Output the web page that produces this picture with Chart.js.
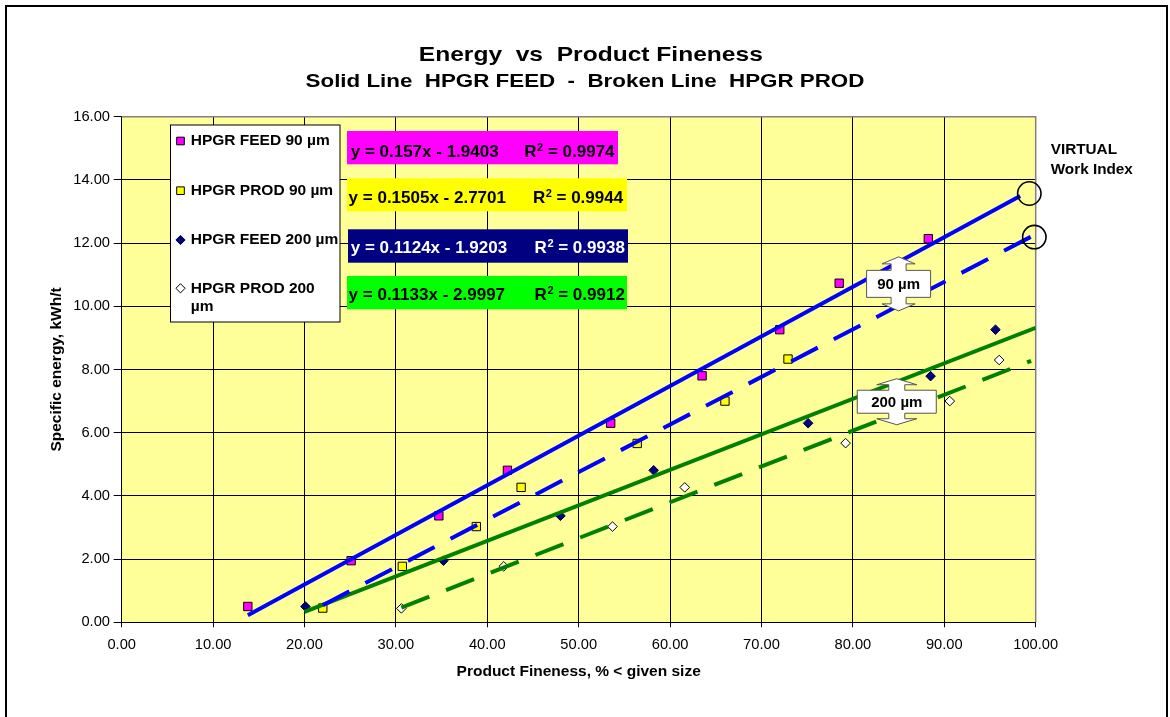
<!DOCTYPE html>
<html>
<head>
<meta charset="utf-8">
<script src="https://cdn.jsdelivr.net/npm/chart.js@4.4.0/dist/chart.umd.min.js"></script>
<style>
  html, body { margin: 0; padding: 0; background: #fff; }
  #wrap { width: 1170px; height: 717px; }
</style>
</head>
<body>
<div id="wrap"><canvas id="chart" width="1170" height="717"></canvas></div>
<script>
const FONT = '"Liberation Sans", Arial, sans-serif';

// measured points (x = fineness %, y = kWh/t)
const feed90X = [13.8, 25.1, 34.7, 42.2, 53.5, 63.5, 72.0, 78.5, 88.25];
const feed90Y = [0.50, 1.95, 3.37, 4.81, 6.30, 7.80, 9.26, 10.73, 12.14];
const prod90X = [22.0, 30.7, 38.8, 43.7, 56.4, 66.0, 72.9];
const prod90Y = [0.45, 1.77, 3.03, 4.27, 5.66, 7.00, 8.33];
const feed200X = [20.1, 35.2, 48.0, 58.2, 75.1, 88.5, 95.6];
const feed200Y = [0.50, 1.95, 3.37, 4.81, 6.30, 7.79, 9.26];
const prod200X = [30.6, 41.8, 53.7, 61.6, 79.2, 90.6, 96.0];
const prod200Y = [0.44, 1.77, 3.03, 4.27, 5.67, 7.00, 8.30];

const seriesNames = ['HPGR FEED 90 µm', 'HPGR PROD 90 µm', 'HPGR FEED 200 µm', 'HPGR PROD 200 µm'];

// trendlines, as printed on the chart
const trendSlope = [0.157, 0.1505, 0.1124, 0.1133];
const trendIntercept = [-1.9403, -2.7701, -1.9203, -2.9997];
const trendEqText = ['y = 0.157x - 1.9403', 'y = 0.1505x - 2.7701', 'y = 0.1124x - 1.9203', 'y = 0.1133x - 2.9997'];
const trendR2 = ['0.9974', '0.9944', '0.9938', '0.9912'];
const trendFrom = [13.8, 22.0, 20.0, 30.6];
const trendTo = [98.3, 100, 100, 99.5];

// axis
const xMin = 0, xMax = 100, xStep = 10;
const yMin = 0, yMax = 16, yStep = 2;

// callouts
const calloutText = ['90 µm', '200 µm'];
const calloutAt = [[85.0, 10.71], [84.8, 6.98]];
const circleAt = [[99.3, 13.57], [99.85, 12.19]];

function pts(xs, ys) { return xs.map((x, i) => ({ x: x, y: ys[i] })); }
function trend(i) {
  const a = trendFrom[i], b = trendTo[i];
  return [{ x: a, y: trendSlope[i] * a + trendIntercept[i] }, { x: b, y: trendSlope[i] * b + trendIntercept[i] }];
}

const markerDs = [
  { label: seriesNames[0], data: pts(feed90X, feed90Y), pointStyle: 'rect', pointRadius: 5.9, backgroundColor: '#FF00FF', borderColor: '#000', borderWidth: 1 },
  { label: seriesNames[1], data: pts(prod90X, prod90Y), pointStyle: 'rect', pointRadius: 5.9, backgroundColor: '#FFFF00', borderColor: '#000', borderWidth: 1 },
  { label: seriesNames[2], data: pts(feed200X, feed200Y), pointStyle: 'rectRot', pointRadius: 4.8, backgroundColor: '#000080', borderColor: '#000040', borderWidth: 1 },
  { label: seriesNames[3], data: pts(prod200X, prod200Y), pointStyle: 'rectRot', pointRadius: 4.8, backgroundColor: '#FFFFFF', borderColor: '#000', borderWidth: 1 }
].map(d => Object.assign(d, { showLine: false, order: 2, pointHoverRadius: d.pointRadius }));

const lineColors = ['#0000FF', '#0000FF', '#008000', '#008000'];
const lineDash = [[], [30, 18], [], [30, 18]];
const trendDs = [0, 1, 2, 3].map(i => ({
  label: 'trend ' + i, data: trend(i), showLine: true, pointRadius: 0, borderColor: lineColors[i],
  borderWidth: 4, borderDash: lineDash[i], borderCapStyle: 'butt', fill: false, order: 1
}));

function sText(ctx, text, x, y, sx, align) {
  ctx.save();
  ctx.translate(x, y);
  ctx.scale(sx, 1);
  ctx.textAlign = align || 'left';
  ctx.fillText(text, 0, 0);
  ctx.restore();
}

function drawMarker(ctx, ds, x, y) {
  ctx.save();
  ctx.fillStyle = ds.backgroundColor;
  ctx.strokeStyle = ds.borderColor;
  ctx.lineWidth = 1;
  ctx.beginPath();
  if (ds.pointStyle === 'rect') {
    const s = ds.pointRadius * Math.SQRT1_2;
    ctx.rect(x - s, y - s, 2 * s, 2 * s);
  } else {
    const r = ds.pointRadius;
    ctx.moveTo(x, y - r); ctx.lineTo(x + r, y); ctx.lineTo(x, y + r); ctx.lineTo(x - r, y); ctx.closePath();
  }
  ctx.fill(); ctx.stroke();
  ctx.restore();
}

function drawCallout(ctx, cx, cy, o) {
  const hb = o.boxW / 2, vb = o.boxH / 2, hs = o.shaftW / 2, hh = o.headW / 2;
  ctx.save();
  ctx.beginPath();
  ctx.moveTo(cx, cy - o.tip);
  ctx.lineTo(cx + hh, cy - o.tip + o.headH);
  ctx.lineTo(cx + hs, cy - o.tip + o.headH);
  ctx.lineTo(cx + hs, cy - vb);
  ctx.lineTo(cx + hb, cy - vb);
  ctx.lineTo(cx + hb, cy + vb);
  ctx.lineTo(cx + hs, cy + vb);
  ctx.lineTo(cx + hs, cy + o.tip - o.headH);
  ctx.lineTo(cx + hh, cy + o.tip - o.headH);
  ctx.lineTo(cx, cy + o.tip);
  ctx.lineTo(cx - hh, cy + o.tip - o.headH);
  ctx.lineTo(cx - hs, cy + o.tip - o.headH);
  ctx.lineTo(cx - hs, cy + vb);
  ctx.lineTo(cx - hb, cy + vb);
  ctx.lineTo(cx - hb, cy - vb);
  ctx.lineTo(cx - hs, cy - vb);
  ctx.lineTo(cx - hs, cy - o.tip + o.headH);
  ctx.lineTo(cx - hh, cy - o.tip + o.headH);
  ctx.closePath();
  ctx.fillStyle = '#fff';
  ctx.fill();
  ctx.strokeStyle = '#555';
  ctx.lineWidth = 1;
  ctx.stroke();
  ctx.fillStyle = '#000';
  ctx.font = 'bold 15px ' + FONT;
  ctx.textAlign = 'center';
  ctx.textBaseline = 'middle';
  ctx.fillText(o.text, cx, cy + 1);
  ctx.restore();
}

const calloutShape = [
  { boxW: 64, boxH: 27, tip: 27, headW: 33, shaftW: 15, headH: 7 },
  { boxW: 79, boxH: 23, tip: 23, headW: 40, shaftW: 16, headH: 6 }
];

const eqBoxes = [
  { x: 347, y: 131, w: 271, h: 33.3, bg: '#FF00FF', fg: '#000', tx: 350.7, rx: 524.3, base: 156.5 },
  { x: 347, y: 178.3, w: 280, h: 33, bg: '#FFFF00', fg: '#000', tx: 348.6, rx: 532.9, base: 202.5 },
  { x: 348, y: 229.3, w: 280, h: 33.4, bg: '#000080', fg: '#fff', tx: 350.7, rx: 534.6, base: 253.2 },
  { x: 347, y: 276, w: 280, h: 33.3, bg: '#00FF00', fg: '#000', tx: 348.6, rx: 534.6, base: 299.9 }
];

const legendRows = [141, 190.7, 240, 288.3];

const decor = {
  id: 'decor',
  beforeDraw(chart) {
    const { ctx, chartArea: a } = chart;
    ctx.save();
    ctx.fillStyle = '#fff';
    ctx.fillRect(0, 0, chart.width, chart.height);
    ctx.fillStyle = '#FFFF99';
    ctx.fillRect(a.left, a.top, a.right - a.left, a.bottom - a.top);
    ctx.restore();
  },
  beforeDatasetsDraw(chart) {
    const { ctx, chartArea: a } = chart;
    ctx.save();
    ctx.strokeStyle = '#808080';
    ctx.lineWidth = 1.5;
    ctx.beginPath();
    ctx.moveTo(a.left, a.top); ctx.lineTo(a.right, a.top); ctx.lineTo(a.right, a.bottom);
    ctx.stroke();
    ctx.restore();
  },
  afterDatasetsDraw(chart) {
    const { ctx } = chart;
    const xs = chart.scales.x, ys = chart.scales.y;
    ctx.save();
    ctx.strokeStyle = '#000';
    ctx.lineWidth = 1.6;
    circleAt.forEach(c => {
      ctx.beginPath();
      ctx.arc(xs.getPixelForValue(c[0]), ys.getPixelForValue(c[1]), 11.7, 0, Math.PI * 2);
      ctx.stroke();
    });
    ctx.restore();
    calloutAt.forEach((c, i) => {
      drawCallout(ctx, xs.getPixelForValue(c[0]), ys.getPixelForValue(c[1]), Object.assign({ text: calloutText[i] }, calloutShape[i]));
    });
  },
  afterDraw(chart) {
    const { ctx } = chart;
    ctx.save();
    ctx.fillStyle = '#000';
    ctx.textBaseline = 'alphabetic';
    // titles
    ctx.font = 'bold 21px ' + FONT;
    sText(ctx, 'Energy  vs  Product Fineness', 590.8, 61, 1.17, 'center');
    ctx.font = 'bold 18.8px ' + FONT;
    sText(ctx, 'Solid Line  HPGR FEED  -  Broken Line  HPGR PROD', 585, 86.7, 1.19, 'center');
    // virtual work index
    ctx.font = 'bold 15.3px ' + FONT;
    ctx.textAlign = 'left';
    ctx.fillText('VIRTUAL', 1050.7, 154);
    ctx.fillText('Work Index', 1050.7, 174);

    // legend
    ctx.fillStyle = '#fff';
    ctx.fillRect(170.5, 125, 169.5, 197);
    ctx.strokeStyle = '#000';
    ctx.lineWidth = 1;
    ctx.strokeRect(170.5, 125, 169.5, 197);
    ctx.font = 'bold 15.5px ' + FONT;
    ctx.textBaseline = 'middle';
    markerDs.forEach((ds, i) => {
      drawMarker(ctx, { backgroundColor: ds.backgroundColor, borderColor: ds.borderColor, pointStyle: ds.pointStyle, pointRadius: ds.pointStyle === 'rect' ? 5.4 : 4.6 }, 180.5, legendRows[i]);
      ctx.fillStyle = '#000';
      // simple word wrap inside the box
      const words = ds.label.split(' ');
      let line = '', y = legendRows[i];
      words.forEach(w => {
        const test = line ? line + ' ' + w : w;
        if (ctx.measureText(test).width > 150 && line) {
          ctx.fillText(line, 190.7, y);
          line = w; y += 18.4;
        } else line = test;
      });
      ctx.fillText(line, 190.7, y);
    });

    // equation boxes
    ctx.textBaseline = 'alphabetic';
    eqBoxes.forEach((b, i) => {
      ctx.fillStyle = b.bg;
      ctx.fillRect(b.x, b.y, b.w, b.h);
      ctx.fillStyle = b.fg;
      ctx.font = 'bold 17px ' + FONT;
      ctx.fillText(trendEqText[i], b.tx, b.base);
      ctx.fillText('R', b.rx, b.base);
      let x = b.rx + ctx.measureText('R').width;
      ctx.font = 'bold 11px ' + FONT;
      ctx.fillText('2', x + 0.5, b.base - 6);
      x += ctx.measureText('2').width + 0.5;
      ctx.font = 'bold 17px ' + FONT;
      ctx.fillText(' = ' + trendR2[i], x, b.base);
    });

    // outer frame
    ctx.strokeStyle = '#000';
    ctx.lineWidth = 2;
    ctx.strokeRect(6, 6, 1161, 800);
    ctx.restore();
  }
};

const tickFont = { family: FONT, size: 14.7 };
const titleFont = { family: FONT, size: 15.5, weight: 'bold' };

new Chart(document.getElementById('chart'), {
  type: 'scatter',
  data: { datasets: trendDs.concat(markerDs) },
  options: {
    responsive: false,
    devicePixelRatio: 1,
    animation: false,
    events: [],
    layout: { padding: { top: 116.7, right: 134.3, left: 0, bottom: 0 } },
    plugins: { legend: { display: false }, title: { display: false }, tooltip: { enabled: false } },
    scales: {
      x: {
        type: 'linear', min: xMin, max: xMax,
        afterFit(s) { s.height = 94.7; },
        ticks: { stepSize: xStep, color: '#000', font: tickFont, padding: 9, maxRotation: 0, callback: v => v.toFixed(2) },
        grid: { color: '#000', lineWidth: 1, tickLength: 5, drawTicks: true },
        border: { display: true, color: '#000', width: 1 },
        title: { display: true, text: 'Product Fineness, % < given size', color: '#000', font: titleFont, padding: { top: 0, bottom: 35.7 } }
      },
      y: {
        type: 'linear', min: yMin, max: yMax,
        afterFit(s) { s.width = 121.7; },
        ticks: { stepSize: yStep, color: '#000', font: tickFont, padding: 3.7, callback: v => v.toFixed(2) },
        grid: { color: '#000', lineWidth: 1, tickLength: 8, drawTicks: true },
        border: { display: true, color: '#000', width: 1 },
        title: { display: true, text: 'Specific energy, kWh/t', color: '#000', font: titleFont, padding: { top: 47.4, bottom: 0 } }
      }
    }
  },
  plugins: [decor]
});
</script>
</body>
</html>
